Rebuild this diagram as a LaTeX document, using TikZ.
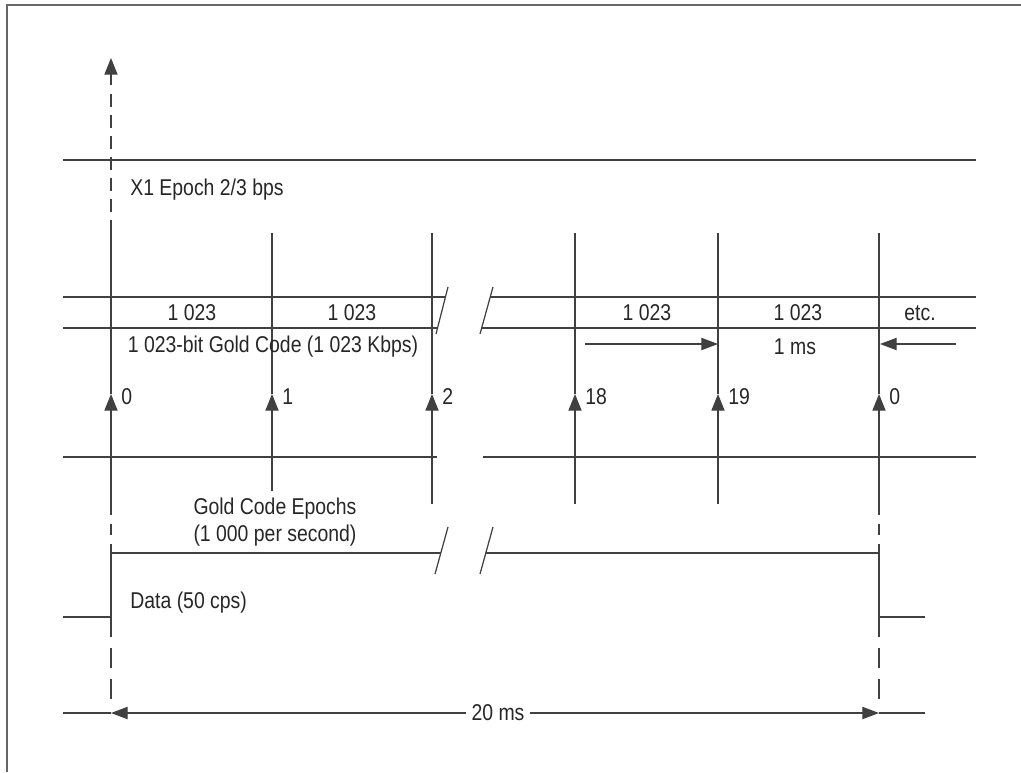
\documentclass[tikz,border=0pt]{standalone}
\usepackage{fontspec}
\setmainfont[FakeStretch=0.85]{Liberation Sans}
\usetikzlibrary{arrows.meta}
\begin{document}
\begin{tikzpicture}[
x=0.02cm,y=-0.02cm,
line width=0.7pt,
color=black!75,
every node/.style={font=\fontsize{13}{15.5}\selectfont,inner sep=1pt,text=black!85},
arr/.style={-{Triangle[length=9.5pt,width=7.5pt]}},
harr/.style={-{Triangle[length=9.5pt,width=7pt]}},
longdash/.style={dash pattern=on 7.4pt off 4.6pt},
thickdash/.style={line width=1.3pt,dash pattern=on 11.4pt off 6.3pt},
shortdash/.style={line width=1.3pt,dash pattern=on 6pt off 5.5pt}
]
\useasboundingbox (0,0) rectangle (1021,772);
% frame
\draw[black!60] (1021,5) -- (7,5) -- (7,772);

% epoch markers
\foreach \n/\x/\b in {e0/111/504,e1/272/491,e2/432/504,e18/575/504,e19/718/504,e20/879/504}{
	\coordinate (\n-top) at (\x,233);
	\coordinate (\n-tip) at (\x,394);
	\coordinate (\n-bot) at (\x,\b);
	\draw[arr] (\n-bot) -- (\n-tip);
	\draw (\n-tip) -- (\n-top);
}
\foreach \n/\t in {e0/0,e1/1,e2/2,e18/18,e19/19,e20/0}
	\node[anchor=west] (l\n) at ([shift={(8,3)}]\n-tip) {\t};

% X1 epoch
\coordinate (x1tip) at (111,58);
\draw[arr,longdash] (e0-top) -- (x1tip);
\draw (63,160) -- (976,160);
\node[anchor=west] (x1) at (128,190) {X1 Epoch 2/3 bps};

% gold code chips
\draw (63,297) -- (445,297);
\draw (63,328) -- (437,328);
\draw (490,297) -- (976,297);
\draw (482,328) -- (976,328);
\draw (448,287) -- (436,334);
\draw (493,287) -- (480,334);
\foreach \x/\n in {192/c1,352/c2,647/c3,798/c4}
	\node (\n) at (\x,313) {1 023};
\node (etc) at (920,313) {etc.};
\node (gold) at (273,347) {1 023-bit Gold Code (1 023 Kbps)};
\node (ms1) at (795,347) {1 ms};
\draw[harr] (585,344) -- (e19-tip |- 0,344);
\draw[harr] (956,344) -- (880,344);

% epoch line
\draw (63,457) -- (437,457);
\draw (483,457) -- (976,457);
\node[align=center] (epochs) at (275,522) {Gold Code Epochs\\(1 000 per second)};

% data bit
\draw (63,617) -- (111,617) -- (111,553) -- (441,553);
\draw (486,553) -- (879,553) -- (879,617) -- (925,617);
\draw (448,527) -- (435,574);
\draw (493,527) -- (480,574);
\draw[shortdash] (e0-bot) -- (111,553);
\draw[shortdash] (e20-bot) -- (879,553);
\draw[thickdash] (111,617) -- (111,702);
\draw[thickdash] (879,617) -- (879,702);
\node[anchor=west] (data) at (128,603) {Data (50 cps)};

% 20 ms span
\node[inner xsep=3pt] (span) at (498,713) {20 ms};
\draw (63,713) -- (111,713);
\draw[harr] (span.west) -- (111,713);
\draw[harr] (span.east) -- (879,713);
\draw (879,713) -- (925,713);
\end{tikzpicture}
\end{document}
